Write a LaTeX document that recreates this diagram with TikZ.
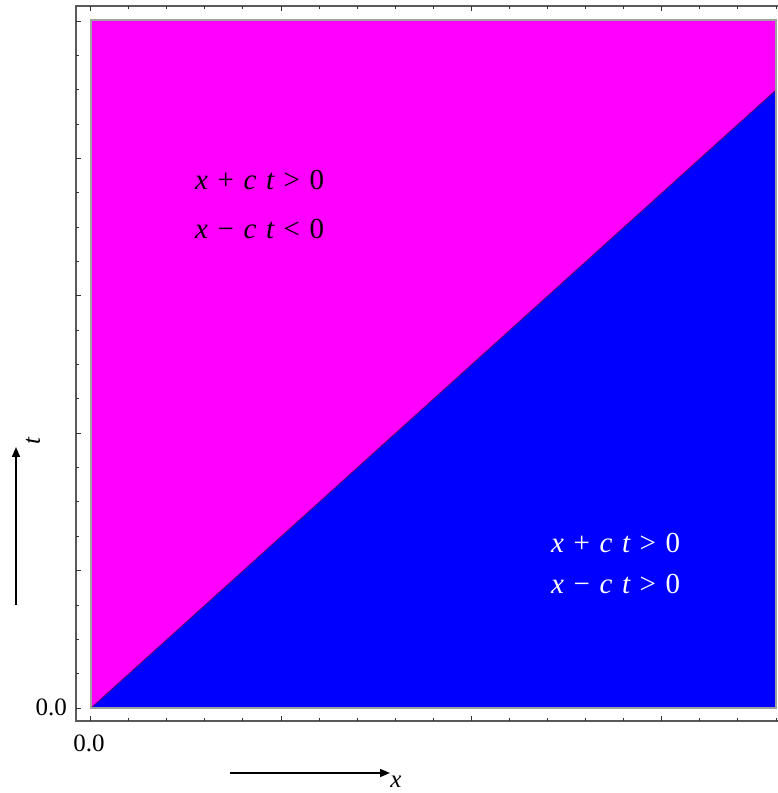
\documentclass[tikz,border=0pt]{standalone}
\usepackage{fontspec}
\setmainfont{Liberation Serif}
\usetikzlibrary{arrows.meta}
\definecolor{mag}{RGB}{255,0,255}
\definecolor{blu}{RGB}{0,0,255}
\definecolor{axgray}{RGB}{90,90,90}
\definecolor{brd}{RGB}{160,160,160}
\newcommand{\gp}{\hspace{0.33em}}
\tikzset{
  lbl/.style={inner sep=0pt, font=\fontsize{25}{30}\selectfont},
  eq/.style={inner sep=0pt, anchor=west, font=\fontsize{29}{34}\selectfont},
  axisline/.style={draw=axgray, line width=1.2pt},
  tick/.style={draw=black!80, line width=0.8pt},
  axarrow/.style={line width=1.6pt, -{Triangle[length=10pt,width=8pt]}}
}
\begin{document}
\begin{tikzpicture}[x=1pt,y=1pt]
\useasboundingbox (0,0) rectangle (778,793);
% regions
\fill[mag] (91,85) rectangle (776,773);
\fill[blu] (91,85) -- (776,703) -- (776,85) -- cycle;
\draw[draw=black!60!mag, line width=0.8pt] (91,85) -- (776,703);
\draw[brd, line width=1.5pt] (91,85) rectangle (776,773);
% frame
\draw[axisline] (778,787) -- (76,787) -- (76,72) -- (778,72);
% ticks bottom/top
\foreach \i in {0,...,18}{
  \pgfmathsetmacro{\xx}{90.5+\i*38.08}
  \pgfmathtruncatemacro{\mj}{mod(\i,5)==0 ? 1 : 0}
  \ifnum\mj=1
    \draw[tick] (\xx,72) -- ++(0,5);
    \draw[tick] (\xx,787) -- ++(0,-5);
  \else
    \draw[tick] (\xx,72) -- ++(0,3);
    \draw[tick] (\xx,787) -- ++(0,-3);
  \fi
}
\foreach \j in {0,...,20}{
  \pgfmathsetmacro{\yy}{85+\j*34.35}
  \pgfmathtruncatemacro{\mj}{mod(\j,4)==0 ? 1 : 0}
  \ifnum\mj=1
    \draw[tick] (76,\yy) -- ++(5,0);
  \else
    \draw[tick] (76,\yy) -- ++(3,0);
  \fi
}
% tick labels
\node[lbl, anchor=east] (y0) at (67,86) {0.0};
\node[lbl] (x0) at (89,50) {0.0};
% axis arrows
\coordinate (xa) at (230,20);
\coordinate (xb) at (390,20);
\draw[axarrow] (xa) -- (xb);
\node[lbl] (xl) at (396,11) {\itshape x};
\coordinate (ta) at (16,188);
\coordinate (tb) at (16,346);
\draw[axarrow] (ta) -- (tb);
\node[lbl, rotate=90] (tl) at (33,352) {\itshape t};
% equations
\node[eq] (e1) at (195,613) {\itshape x\upshape\gp+\gp\itshape c\gp t\gp\upshape >\gp 0};
\node[eq] (e2) at (195,564) {\itshape x\upshape\gp−\gp\itshape c\gp t\gp\upshape <\gp 0};
\node[eq, text=white] (e3) at (551,250) {\itshape x\upshape\gp+\gp\itshape c\gp t\gp\upshape >\gp 0};
\node[eq, text=white] (e4) at (551,209) {\itshape x\upshape\gp−\gp\itshape c\gp t\gp\upshape >\gp 0};
\end{tikzpicture}
\end{document}
